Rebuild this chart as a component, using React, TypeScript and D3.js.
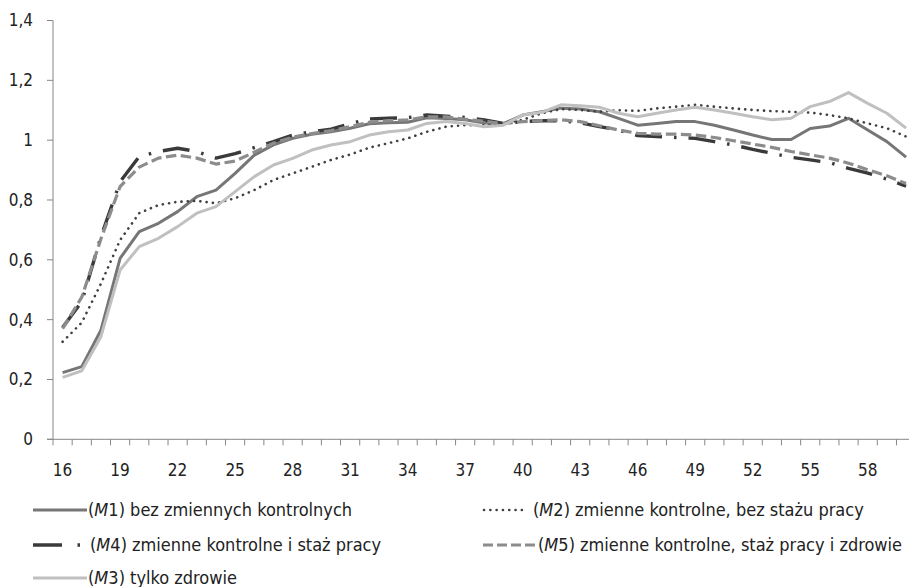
import React from "react";
import * as d3 from "d3";

const ages: number[] = [16,17,18,19,20,21,22,23,24,25,26,27,28,29,30,31,32,33,34,35,36,37,38,39,40,41,42,43,44,45,46,47,48,49,50,51,52,53,54,55,56,57,58,59,60];
const tickLabelAges: number[] = [16,19,22,25,28,31,34,37,40,43,46,49,52,55,58];
const yTicks: number[] = [0,0.2,0.4,0.6,0.8,1,1.2,1.4];

const m1: number[] = [0.223,0.243,0.365,0.605,0.694,0.722,0.761,0.811,0.833,0.889,0.95,0.984,1.006,1.02,1.028,1.04,1.055,1.058,1.06,1.075,1.072,1.068,1.057,1.055,1.084,1.095,1.107,1.104,1.095,1.073,1.05,1.056,1.062,1.062,1.05,1.034,1.017,1.002,1.002,1.039,1.047,1.073,1.034,0.995,0.943];
const m2: number[] = [0.326,0.39,0.52,0.666,0.756,0.783,0.794,0.797,0.789,0.806,0.833,0.867,0.889,0.911,0.934,0.952,0.975,0.99,1.006,1.028,1.045,1.05,1.05,1.056,1.068,1.09,1.104,1.101,1.095,1.1,1.098,1.106,1.112,1.118,1.112,1.106,1.101,1.097,1.095,1.092,1.084,1.073,1.056,1.04,1.012];
const m4: number[] = [0.374,0.46,0.677,0.861,0.945,0.962,0.973,0.962,0.94,0.955,0.975,0.995,1.017,1.028,1.037,1.055,1.071,1.073,1.075,1.084,1.08,1.076,1.068,1.056,1.062,1.065,1.065,1.058,1.045,1.034,1.015,1.012,1.009,1.006,0.995,0.984,0.969,0.956,0.943,0.934,0.925,0.906,0.89,0.87,0.846];
const m5: number[] = [0.37,0.475,0.67,0.845,0.91,0.94,0.95,0.94,0.92,0.93,0.96,0.99,1.01,1.022,1.032,1.045,1.06,1.065,1.068,1.078,1.078,1.07,1.063,1.055,1.062,1.065,1.068,1.062,1.048,1.034,1.023,1.02,1.02,1.017,1.009,0.998,0.987,0.976,0.962,0.951,0.94,0.923,0.901,0.881,0.855];
const m3: number[] = [0.207,0.229,0.343,0.566,0.644,0.672,0.711,0.756,0.778,0.828,0.878,0.917,0.939,0.967,0.984,0.995,1.017,1.028,1.034,1.056,1.062,1.056,1.045,1.05,1.084,1.093,1.118,1.115,1.11,1.09,1.078,1.09,1.101,1.11,1.101,1.09,1.078,1.068,1.073,1.112,1.129,1.159,1.123,1.09,1.04];

type Style = { color: string; width: number; dash?: string; legendDash?: string; cap?: "round" | "butt" };
const seriesNames = ["M1", "M2", "M4", "M5", "M3"];
const seriesLabels = [
  "bez zmiennych kontrolnych",
  "zmienne kontrolne, bez stażu pracy",
  "zmienne kontrolne i staż pracy",
  "zmienne kontrolne, staż pracy i zdrowie",
  "tylko zdrowie",
];
const seriesData = [m1, m2, m4, m5, m3];
const styles: Style[] = [
  { color: "#767676", width: 3 },
  { color: "#404040", width: 2.6, dash: "0.1 6.2", cap: "round" },
  { color: "#3a3a3a", width: 3.4, dash: "27 12 2.5 12", legendDash: "29 15.5 2.5 40" },
  { color: "#8c8c8c", width: 3.2, dash: "10.5 4.5", legendDash: "10 4" },
  { color: "#c0c0c0", width: 3 },
];

const FONT = "'Liberation Sans Narrow', 'DejaVu Sans Condensed', 'Open Sans', sans-serif";

export default function App() {
  const left = 53;
  const catW = 19.17;
  const right = left + ages.length * catW;
  const x = d3.scaleBand<number>().domain(ages).range([left, right]);
  const y = d3.scaleLinear().domain([0, 1.4]).range([439.3, 20.5]);
  const line = d3
    .line<number>()
    .x((_, i) => (x(ages[i]) as number) + x.bandwidth() / 2)
    .y((v) => y(v));
  const axisColor = "#868686";

  const legendItems = [
    { s: 0, lx: 33, lx2: 87, tx: 88, ty: 510 },
    { s: 1, lx: 484, lx2: 527, tx: 533, ty: 510 },
    { s: 2, lx: 33, lx2: 82, tx: 90, ty: 545 },
    { s: 3, lx: 483, lx2: 537, tx: 538, ty: 545 },
    { s: 4, lx: 33, lx2: 87, tx: 88, ty: 578 },
  ];

  return (
    <div style={{ position: "absolute", left: 0, top: 0 }}>
      <svg width={909} height={587} style={{ display: "block", background: "#fff" }}>
        <line x1={left} x2={left} y1={y(1.4)} y2={y(0)} stroke={axisColor} strokeWidth={1} />
        <line x1={left - 6} x2={right} y1={y(0)} y2={y(0)} stroke={axisColor} strokeWidth={1} />
        {yTicks.map((t) => (
          <g key={"yt" + t}>
            <line x1={left - 6} x2={left} y1={y(t)} y2={y(t)} stroke={axisColor} />
            <text x={33} y={y(t)} dy="0.35em" textAnchor="end" fontFamily={FONT} fontSize={17} fill="#222">
              {d3.format(".1f")(t).replace(".", ",").replace(/,0$/, "")}
            </text>
          </g>
        ))}
        {ages.map((a) => (
          <line key={"xt" + a} x1={x(a) as number} x2={x(a) as number} y1={y(0)} y2={y(0) + 6} stroke={axisColor} />
        ))}
        {tickLabelAges.map((a) => (
          <text key={"xl" + a} x={(x(a) as number) + x.bandwidth() / 2} y={476} textAnchor="middle" fontFamily={FONT} fontSize={17} fill="#222">
            {a}
          </text>
        ))}
        {seriesData.map((d, i) => (
          <path
            key={"s" + i}
            d={line(d) || ""}
            fill="none"
            stroke={styles[i].color}
            strokeWidth={styles[i].width}
            strokeDasharray={styles[i].dash}
            strokeLinecap={styles[i].cap || "butt"}
            strokeLinejoin="round"
          />
        ))}
        {legendItems.map((it) => {
          const st = styles[it.s];
          return (
            <g key={"lg" + it.s}>
              <line
                x1={it.lx}
                x2={it.lx2}
                y1={it.ty}
                y2={it.ty}
                stroke={st.color}
                strokeWidth={st.width}
                strokeDasharray={st.legendDash || st.dash}
                strokeLinecap={st.cap || "butt"}
              />
              <text x={it.tx} y={it.ty} dy="0.35em" fontFamily={FONT} fontSize={18} fill="#222">
                (<tspan fontStyle="italic">M</tspan>
                {seriesNames[it.s].slice(1)}) {seriesLabels[it.s]}
              </text>
            </g>
          );
        })}
      </svg>
    </div>
  );
}
